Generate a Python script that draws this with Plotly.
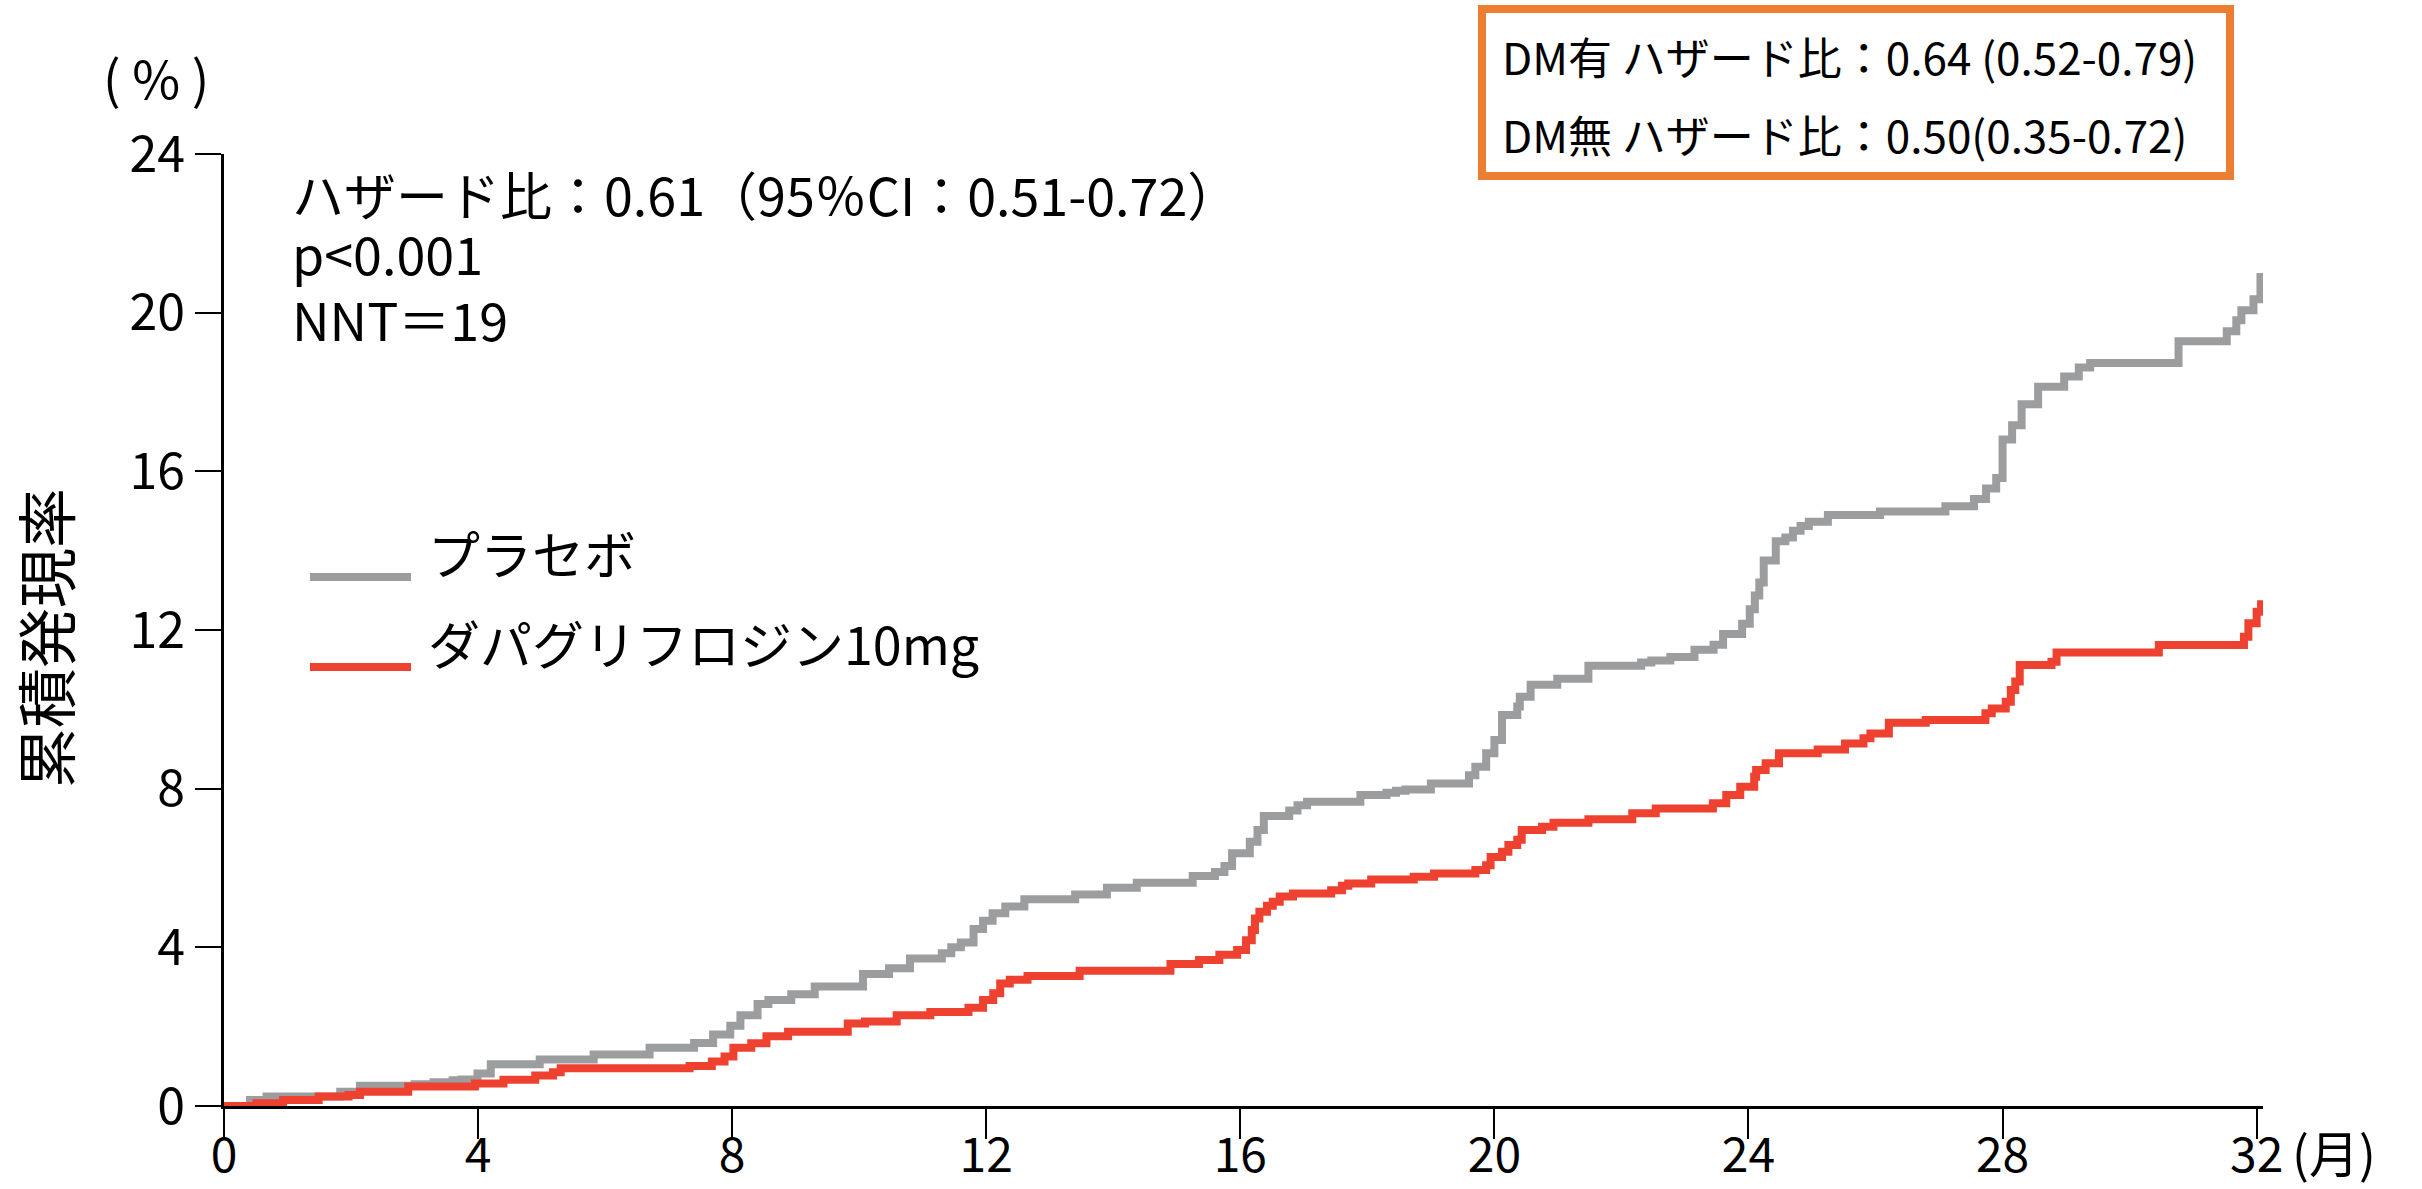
import plotly.graph_objects as go

# ---------------- data ----------------
placebo_month = [0, 0.41, 0.67, 1.83, 2.14, 3.0, 3.3, 3.6, 3.74, 3.99, 4.2, 4.97, 5.82, 6.7, 7.4, 7.7,
                 7.97, 8.13, 8.4, 8.57, 8.93, 9.3, 10.06, 10.47, 10.8, 11.3, 11.45, 11.6, 11.8, 11.95,
                 12.1, 12.3, 12.6, 13.4, 13.9, 14.37, 15.25, 15.6, 15.75, 15.87, 16.15, 16.27, 16.37,
                 16.77, 16.9, 17.05, 17.89, 18.3, 18.45, 18.6, 19.0, 19.6, 19.7, 19.87, 20.0, 20.12,
                 20.36, 20.4, 20.57, 20.99, 21.48, 22.31, 22.47, 22.77, 23.15, 23.45, 23.6, 23.9,
                 24.02, 24.1, 24.17, 24.24, 24.43, 24.58, 24.7, 24.82, 24.95, 25.25, 26.07, 27.1,
                 27.55, 27.74, 27.9, 28.0, 28.15, 28.3, 28.56, 28.97, 29.2, 29.38, 30.77, 31.53,
                 31.68, 31.76, 31.95, 32.06]
placebo_pct = [0, 0.15, 0.24, 0.36, 0.51, 0.55, 0.6, 0.65, 0.67, 0.82, 1.05, 1.17, 1.3, 1.47, 1.59, 1.8,
               2.02, 2.29, 2.57, 2.67, 2.82, 3.01, 3.33, 3.47, 3.72, 3.85, 4.0, 4.12, 4.46, 4.67,
               4.86, 5.03, 5.21, 5.33, 5.5, 5.63, 5.8, 5.9, 6.05, 6.37, 6.66, 6.96, 7.31,
               7.45, 7.58, 7.67, 7.84, 7.9, 7.95, 7.98, 8.13, 8.34, 8.55, 8.89, 9.23, 9.86,
               10.07, 10.32, 10.62, 10.77, 11.1, 11.18, 11.23, 11.32, 11.5, 11.63, 11.9, 12.16,
               12.52, 12.87, 13.2, 13.75, 14.24, 14.33, 14.5, 14.62, 14.73, 14.9, 14.99, 15.12,
               15.3, 15.57, 15.83, 16.8, 17.16, 17.69, 18.13, 18.39, 18.62, 18.73, 19.28, 19.53,
               19.81, 20.06, 20.34, 21.0]

dapa_month = [0, 0.51, 0.93, 1.49, 1.96, 2.14, 2.9, 3.95, 4.4, 4.9, 5.18, 5.3, 7.33, 7.68, 7.88, 8.02,
              8.3, 8.54, 8.88, 9.82, 10.09, 10.59, 11.12, 11.72, 11.95, 12.11, 12.22, 12.37, 12.65,
              13.47, 14.9, 15.35, 15.67, 15.95, 16.09, 16.18, 16.23, 16.3, 16.42, 16.51, 16.62,
              16.83, 17.43, 17.6, 17.7, 18.06, 18.73, 19.05, 19.7, 19.87, 19.94, 20.12, 20.22,
              20.36, 20.43, 20.75, 20.93, 21.48, 22.17, 22.54, 23.44, 23.65, 23.87, 24.09, 24.12,
              24.27, 24.48, 25.09, 25.52, 25.81, 25.92, 26.21, 26.79, 27.73, 27.83, 28.05, 28.13,
              28.2, 28.27, 28.77, 28.85, 30.46, 31.8, 31.87, 32.0, 32.07]
dapa_pct = [0, 0.07, 0.15, 0.24, 0.28, 0.36, 0.49, 0.57, 0.66, 0.77, 0.85, 0.95, 1.01, 1.12, 1.25, 1.47,
            1.58, 1.76, 1.87, 2.08, 2.13, 2.29, 2.37, 2.48, 2.67, 2.84, 3.09, 3.18, 3.28,
            3.41, 3.58, 3.68, 3.81, 3.93, 4.18, 4.44, 4.73, 4.9, 5.05, 5.15, 5.28,
            5.36, 5.44, 5.55, 5.61, 5.71, 5.78, 5.86, 5.95, 6.07, 6.28, 6.41, 6.58,
            6.71, 6.96, 7.04, 7.14, 7.23, 7.38, 7.5, 7.63, 7.84, 8.05, 8.3, 8.47,
            8.64, 8.89, 8.99, 9.14, 9.27, 9.39, 9.66, 9.73, 9.9, 10.02, 10.19, 10.49,
            10.7, 11.12, 11.2, 11.43, 11.62, 11.83, 12.17, 12.46, 12.75]

series_names = ["プラセボ", "ダパグリフロジン10mg"]
x_ticks = [0, 4, 8, 12, 16, 20, 24, 28, 32]
y_ticks = [0, 4, 8, 12, 16, 20, 24]
stats_lines = ["ハザード比：0.61（95％CI：0.51-0.72）", "p<0.001", "NNT＝19"]
box_lines = ["DM有 ハザード比：0.64 (0.52-0.79)", "DM無 ハザード比：0.50(0.35-0.72)"]

# ---------------- style ----------------
FONT = "Noto Sans CJK JP"
GRAY = "#9c9d9e"
RED = "#ee4130"
ORANGE = "#ed7d31"

W, H = 2422, 1189
L, R, T, B = 224, 159, 154, 83
PW, PH = W - L - R, H - T - B


def px(xp):
    return (xp - L) / PW


def py(yp):
    return (H - B - yp) / PH


fig = go.Figure()
fig.add_trace(go.Scatter(x=placebo_month, y=placebo_pct, mode="lines", name=series_names[0],
                         line=dict(color=GRAY, width=8, shape="hv"), showlegend=False))
fig.add_trace(go.Scatter(x=dapa_month, y=dapa_pct, mode="lines", name=series_names[1],
                         line=dict(color=RED, width=8, shape="hv"), showlegend=False))

axis_common = dict(showgrid=False, zeroline=False, showline=True, linecolor="black",
                   ticks="outside", tickcolor="black", tickwidth=2, automargin=False,
                   layer="below traces")

fig.update_layout(
    width=W, height=H,
    margin=dict(l=L, r=R, t=T, b=B, pad=0, autoexpand=False),
    paper_bgcolor="white", plot_bgcolor="white",
    font=dict(family=FONT, color="black"),
    xaxis=dict(range=[0, 32.1], tickvals=x_ticks, ticktext=[str(v) for v in x_ticks],
               ticklen=30, linewidth=3, ticklabelstandoff=-25,
               tickfont=dict(family=FONT, size=48, color="black"), **axis_common),
    yaxis=dict(range=[0, 24], tickvals=y_ticks, ticktext=[str(v) for v in y_ticks],
               ticklen=26, linewidth=3,
               tickfont=dict(family=FONT, size=50, color="black"), **axis_common),
)

ann = []
# stats text
for yp, txt in zip([194, 253, 318], stats_lines):
    ann.append(dict(x=px(290), y=py(yp), xref="paper", yref="paper", xanchor="left", yanchor="middle",
                    text=txt, showarrow=False, font=dict(family=FONT, size=52, color="black")))
# unit labels
ann.append(dict(x=px(156), y=py(76), xref="paper", yref="paper", xanchor="center", yanchor="middle",
                text="( % )", showarrow=False, font=dict(family=FONT, size=52, color="black")))
ann.append(dict(x=px(2290), y=py(1151), xref="paper", yref="paper", xanchor="left", yanchor="middle",
                text="(月)", showarrow=False, font=dict(family=FONT, size=50, color="black")))
# y title
ann.append(dict(x=px(43), y=py(638), xref="paper", yref="paper", xanchor="center", yanchor="middle",
                text="累積発現率", textangle=-90, showarrow=False,
                font=dict(family=FONT, size=60, color="black")))
# legend texts
for yp, txt in zip([552, 642], series_names):
    ann.append(dict(x=px(426), y=py(yp), xref="paper", yref="paper", xanchor="left", yanchor="middle",
                    text=txt, showarrow=False, font=dict(family=FONT, size=52, color="black")))
# box texts
for yp, txt in zip([56, 134], box_lines):
    ann.append(dict(x=px(1500), y=py(yp), xref="paper", yref="paper", xanchor="left", yanchor="middle",
                    text=txt, showarrow=False, font=dict(family=FONT, size=44, color="black")))
fig.update_layout(annotations=ann)

shapes = [
    dict(type="line", xref="paper", yref="paper", x0=px(310), x1=px(411), y0=py(577), y1=py(577),
         line=dict(color=GRAY, width=8)),
    dict(type="line", xref="paper", yref="paper", x0=px(310), x1=px(411), y0=py(667), y1=py(667),
         line=dict(color=RED, width=8)),
    dict(type="rect", xref="paper", yref="paper", x0=px(1482), x1=px(2230), y0=py(176), y1=py(9),
         line=dict(color=ORANGE, width=8), fillcolor="rgba(0,0,0,0)"),
]
fig.update_layout(shapes=shapes)

fig.write_html("out.html")
